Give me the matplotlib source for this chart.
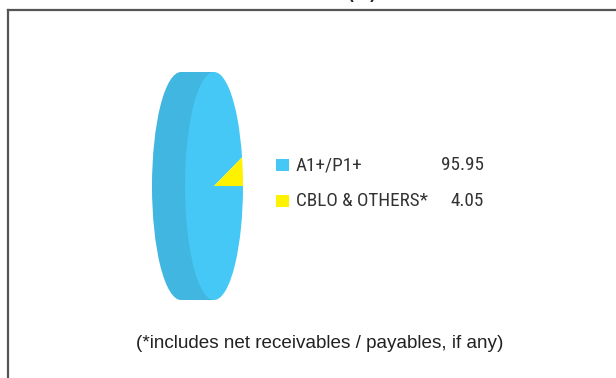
import matplotlib
matplotlib.use("Agg")
import matplotlib.pyplot as plt
from matplotlib.patches import Ellipse, Rectangle
from matplotlib import font_manager

labels = ["A1+/P1+", "CBLO & OTHERS*"]
values = [95.95, 4.05]
colors = ["#45c8f5", "#fff200"]
side_color = "#40b6e0"

W, H = 616, 378
fig = plt.figure(figsize=(W / 100, H / 100), dpi=100)

# outer box (only top and left edges visible in the crop)
fig.add_artist(plt.Line2D([8 / W, 8 / W], [0, 1 - 10 / H], color="#555555", lw=1.6))
fig.add_artist(plt.Line2D([8 / W, 1], [1 - 10 / H, 1 - 10 / H], color="#555555", lw=1.6))

# title cut by the top edge
fig.text(377 / W, 1.0, "(%)", ha="right", va="baseline", fontsize=11,
         fontweight="bold", color="#222222")

# pie axes, pixel geometry
cx, cy = 214, 186     # centre of front face
a, b = 29, 114        # semi axes in pixels
depth = 33
left, right, top, bottom = 140, 250, 60, 310
ax = fig.add_axes([left / W, (H - bottom) / H, (right - left) / W, (bottom - top) / H])
ax.pie(values, colors=colors, startangle=0, counterclock=False,
       wedgeprops=dict(linewidth=0))
ax.set_aspect("auto")
ax.set_xlim(-(cx - left) / a, (right - cx) / a)
ax.set_ylim(-(bottom - cy) / b, (cy - top) / b)
d = depth / a
ax.add_patch(Ellipse((-d, 0), 2, 2, color=side_color, lw=0, zorder=0))
ax.add_patch(Rectangle((-d, -1), d, 2, color=side_color, lw=0, zorder=0))
ax.axis("off")

# legend
names = {f.name for f in font_manager.fontManager.ttflist}
fam = [n for n in ["Roboto Condensed", "Liberation Sans Narrow", "Archivo Narrow"]
       if n in names][:1] + ["Liberation Sans"]
rows_y = [165, 201]
for y, lab, val, col in zip(rows_y, labels, values, colors):
    fig.add_artist(Rectangle((276 / W, 1 - (y + 6) / H), 13 / W, 12 / H,
                             transform=fig.transFigure, color=col, lw=0))
    fig.text(296 / W, 1 - y / H, lab, ha="left", va="center", fontsize=13.8,
             family=fam, color="#333333")
    fig.text(484 / W, 1 - y / H, "%.2f" % val, ha="right", va="center",
             fontsize=13.8, family=fam, color="#333333")

fig.text(320 / W, 1 - 343 / H, "(*includes net receivables / payables, if any)",
         ha="center", va="center", fontsize=13.6, family="Liberation Sans",
         color="#222222")

fig.savefig("out.png", dpi=100)
